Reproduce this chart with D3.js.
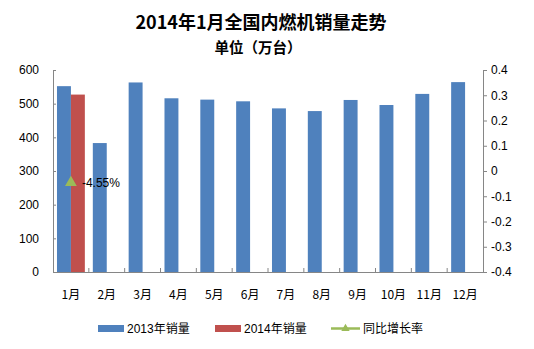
<!DOCTYPE html>
<html><head><meta charset="utf-8">
<script src="https://cdn.jsdelivr.net/npm/d3@7/dist/d3.min.js"></script>
<style>body{margin:0;background:#fff}svg{display:block}text{font-family:"Liberation Sans","Noto Sans CJK SC",sans-serif}</style>
</head><body><svg id="c" width="534" height="349"></svg>
<script>
const months = ["1月","2月","3月","4月","5月","6月","7月","8月","9月","10月","11月","12月"];
const sales2013 = [552,383,563,516,512,507,486,478,511,496,529,564];
const sales2014 = [527];
const growth = [{month:"1月", value:-0.0455, label:"-4.55%"}];
const leftTicks = [0,100,200,300,400,500,600];
const rightTicks = [-0.4,-0.3,-0.2,-0.1,0,0.1,0.2,0.3,0.4];
const seriesNames = ["2013年销量","2014年销量","同比增长率"];
const colors = ["#4F81BD","#C0504D","#9BBB59"];

const svg = d3.select("#c");
const L = 53, R = 483, T = 70, B = 272;
const x0 = d3.scaleBand().domain(months).range([L,R]).padding(0);
const x1 = d3.scaleBand().domain(["2013","2014"]).range([0,x0.bandwidth()]).paddingInner(0).paddingOuter(0.286);
const yL = d3.scaleLinear().domain([0,600]).range([B,T]);
const yR = d3.scaleLinear().domain([-0.4,0.4]).range([B,T]);
const cjk = '"Noto Sans CJK SC","Liberation Sans",sans-serif';

svg.append("text").attr("x",261).attr("y",29).attr("text-anchor","middle")
  .style("font-size","18px").style("font-weight","bold").style("font-family",cjk).text("2014年1月全国内燃机销量走势");
svg.append("text").attr("x",258).attr("y",53).attr("text-anchor","middle")
  .style("font-size","14.5px").style("font-weight","bold").style("font-family",cjk).text("单位（万台）");

// bars
svg.append("g").selectAll("rect").data(sales2013).join("rect")
  .attr("x",(d,i)=>x0(months[i])+x1("2013")).attr("width",x1.bandwidth())
  .attr("y",d=>yL(d)).attr("height",d=>yL(0)-yL(d)).attr("fill",colors[0]);
svg.append("g").selectAll("rect").data(sales2014).join("rect")
  .attr("x",(d,i)=>x0(months[i])+x1("2014")).attr("width",x1.bandwidth())
  .attr("y",d=>yL(d)).attr("height",d=>yL(0)-yL(d)).attr("fill",colors[1]);

// axes
const axisColor = "#868686";
const gl = svg.append("g").attr("transform",`translate(${L},0)`)
  .call(d3.axisLeft(yL).tickValues(leftTicks).tickSize(-3).tickPadding(14));
const gr = svg.append("g").attr("transform",`translate(${R},0)`)
  .call(d3.axisRight(yR).tickValues(rightTicks).tickSize(4).tickPadding(4).tickFormat(d=>String(+d.toFixed(1))));
const gx = svg.append("g").attr("transform",`translate(0,${B})`)
  .call(d3.axisBottom(x0).tickSize(0).tickPadding(18));
[gl,gr,gx].forEach(g=>{
  g.select(".domain").attr("stroke",axisColor);
  g.selectAll(".tick line").attr("stroke",axisColor);
  g.selectAll("text").style("font-size","12px").attr("fill","#000");
});
gx.selectAll("text").style("font-family",cjk);
// category boundary ticks
svg.append("g").selectAll("line").data(months.slice(1)).join("line")
  .attr("x1",d=>x0(d)).attr("x2",d=>x0(d)).attr("y1",B).attr("y2",B-4).attr("stroke",axisColor);

// growth marker
const tri = d3.symbol().type(d3.symbolTriangle).size(60);
svg.append("g").selectAll("path").data(growth).join("path")
  .attr("d",tri).attr("fill",colors[2])
  .attr("transform",d=>`translate(${x0(d.month)+x0.bandwidth()/2},${yR(d.value)})`);
svg.append("g").selectAll("text").data(growth).join("text")
  .attr("x",d=>x0(d.month)+x0.bandwidth()/2+11).attr("y",d=>yR(d.value)+4.5)
  .style("font-size","12px").text(d=>d.label);

// legend
const lg = svg.append("g").style("font-family",cjk);
const legendX = [98,215,331];
lg.append("rect").attr("x",legendX[0]).attr("y",325).attr("width",26).attr("height",7).attr("fill",colors[0]);
lg.append("rect").attr("x",legendX[1]).attr("y",325).attr("width",26).attr("height",7).attr("fill",colors[1]);
lg.append("line").attr("x1",legendX[2]).attr("x2",legendX[2]+29).attr("y1",328.5).attr("y2",328.5).attr("stroke",colors[2]).attr("stroke-width",2.5);
lg.append("path").attr("d",d3.symbol().type(d3.symbolTriangle).size(30)).attr("fill",colors[2]).attr("transform",`translate(${legendX[2]+14.5},328.5)`);
lg.selectAll("text.l").data(seriesNames).join("text").attr("class","l")
  .attr("x",(d,i)=>legendX[i]+(i==2?32:29)).attr("y",333).style("font-size","12px").text(d=>d);
</script></body></html>
